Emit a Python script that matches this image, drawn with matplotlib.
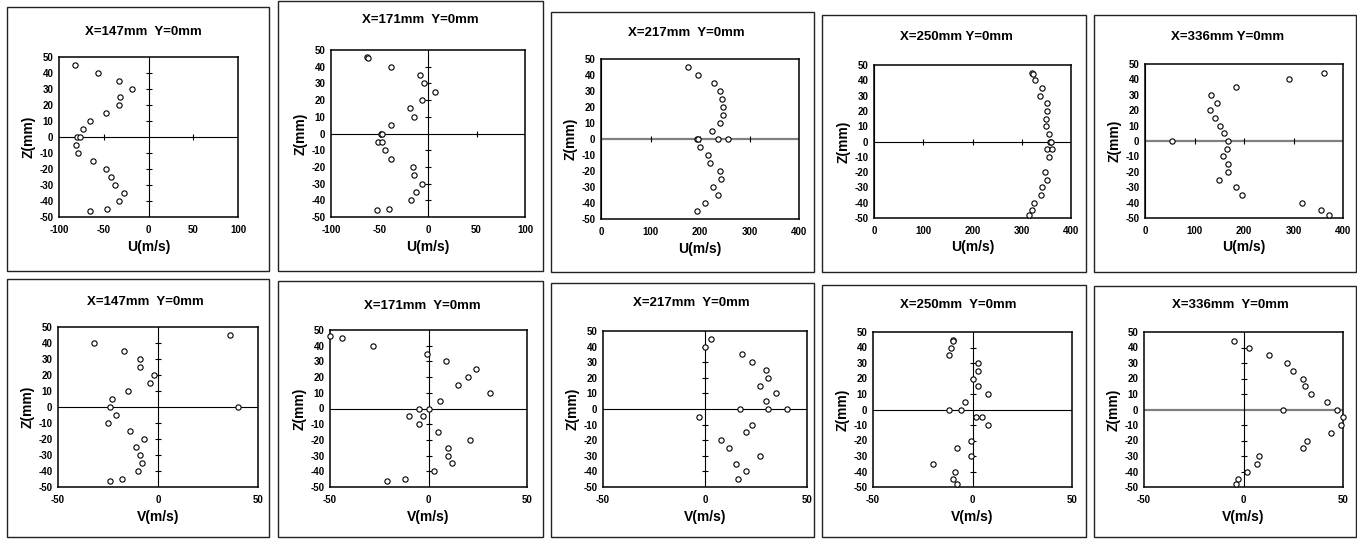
import matplotlib
matplotlib.use("Agg")
import matplotlib.pyplot as plt
from matplotlib.patches import Rectangle

plt.rcParams['font.family'] = ['Liberation Sans', 'DejaVu Sans']
plt.rcParams['font.weight'] = 'bold'
plt.rcParams['axes.unicode_minus'] = False

# measured profiles, Z in mm
z_u147 = [45, 40, 35, 30, 25, 20, 15, 10, 5, 0, 0, -5, -10, -15, -20, -25, -30, -35, -40, -45, -46]
u147 = [-82, -56, -33, -18, -32, -33, -47, -65, -73, -80, -77, -81, -79, -62, -48, -42, -37, -27, -33, -46, -65]

z_u171 = [46, 45, 40, 35, 30, 25, 20, 15, 10, 5, 0, 0, -5, -5, -10, -15, -20, -25, -30, -35, -40, -45, -46]
u171 = [-63, -62, -38, -8, -4, 7, -6, -19, -14, -38, -48, -47, -52, -47, -44, -38, -15, -14, -6, -12, -18, -40, -53]

z_u217 = [45, 40, 35, 30, 25, 20, 15, 10, 5, 0, 0, 0, 0, -5, -10, -15, -20, -25, -30, -35, -40, -45]
u217 = [176, 196, 229, 240, 245, 246, 247, 240, 224, 194, 196, 237, 256, 200, 216, 220, 241, 243, 227, 236, 211, 194]

z_u250 = [45, 44, 40, 35, 30, 25, 20, 15, 10, 5, 0, 0, -5, -5, -10, -20, -25, -30, -35, -40, -45, -48]
u250 = [321, 322, 326, 342, 338, 352, 352, 350, 350, 356, 357, 360, 352, 362, 356, 348, 351, 342, 340, 324, 320, 315]

z_u336 = [44, 40, 35, 30, 25, 20, 15, 10, 5, 0, 0, -5, -10, -15, -20, -25, -30, -35, -40, -45, -48]
u336 = [361, 290, 183, 134, 145, 132, 142, 151, 159, 55, 167, 165, 157, 168, 168, 150, 183, 196, 318, 355, 371]

z_v147 = [45, 40, 35, 30, 25, 20, 15, 10, 5, 0, 0, -5, -10, -15, -20, -25, -30, -35, -40, -45, -46]
v147 = [36, -32, -17, -9, -9, -2, -4, -15, -23, -24, 40, -21, -25, -14, -7, -11, -9, -8, -10, -18, -24]

z_v171 = [46, 45, 40, 35, 30, 25, 20, 15, 10, 5, 0, 0, -5, -5, -10, -15, -20, -25, -30, -35, -40, -45, -46]
v171 = [-50, -44, -28, -1, 9, 24, 20, 15, 31, 6, -5, 0, -10, -3, -5, 5, 21, 10, 10, 12, 3, -12, -21]

z_v217 = [45, 40, 35, 30, 25, 20, 15, 10, 5, 0, 0, 0, -5, -10, -15, -20, -25, -30, -35, -40, -45]
v217 = [3, 0, 18, 23, 30, 31, 27, 35, 30, 17, 31, 40, -3, 23, 20, 8, 12, 27, 15, 20, 16]

z_v250 = [45, 44, 40, 35, 30, 25, 20, 15, 10, 5, 0, 0, -5, -5, -10, -20, -25, -30, -35, -40, -45, -48]
v250 = [-10, -10, -11, -12, 3, 3, 0, 3, 8, -4, -12, -6, 2, 5, 8, -1, -8, -1, -20, -9, -10, -8]

z_v336 = [44, 40, 35, 30, 25, 20, 15, 10, 5, 0, 0, -5, -10, -15, -20, -25, -30, -35, -40, -45, -48]
v336 = [-5, 3, 13, 22, 25, 30, 31, 34, 42, 20, 47, 50, 49, 44, 32, 30, 8, 7, 2, -3, -4]

titles = ["X=147mm  Y=0mm", "X=171mm  Y=0mm", "X=217mm  Y=0mm", "X=250mm Y=0mm", "X=336mm Y=0mm",
          "X=147mm  Y=0mm", "X=171mm  Y=0mm", "X=217mm  Y=0mm", "X=250mm  Y=0mm", "X=336mm  Y=0mm"]
xs = [u147, u171, u217, u250, u336, v147, v171, v217, v250, v336]
zs = [z_u147, z_u171, z_u217, z_u250, z_u336, z_v147, z_v171, z_v217, z_v250, z_v336]
xticks_u_small = [-100, -50, 0, 50, 100]
xticks_u_big = [0, 100, 200, 300, 400]
xticks_v = [-50, 0, 50]
zticks = list(range(-50, 51, 10))

W, H = 1357, 539
# pixel boxes: outer frame and plot area (x0, x1, ytop, ybottom)
frames = [(7, 269, 7, 271), (278, 543, 1, 271), (551, 814, 12, 272), (822, 1086, 15, 272), (1094, 1356, 15, 272),
          (7, 269, 279, 537), (278, 543, 281, 537), (551, 814, 283, 537), (822, 1086, 285, 537), (1094, 1356, 286, 537)]
plots = [(59, 238, 57, 217), (331, 525, 50, 217), (601, 799, 59, 219), (874, 1071, 65, 218), (1145, 1343, 64, 218),
         (58, 258, 327, 487), (330, 527, 330, 487), (603, 807, 331, 487), (873, 1072, 332, 487), (1144, 1343, 332, 487)]
title_pos = [(143, 32), (420, 20), (686, 33), (956, 37), (1228, 37),
             (145, 302), (422, 306), (691, 303), (958, 305), (1230, 305)]
hline_gray = [False, False, True, False, True, False, False, False, False, True]

fig = plt.figure(figsize=(W / 100, H / 100), dpi=100)

for i in range(10):
    fx0, fx1, fy0, fy1 = frames[i]
    fig.patches.append(Rectangle((fx0 / W, 1 - fy1 / H), (fx1 - fx0) / W, (fy1 - fy0) / H,
                                 transform=fig.transFigure, fill=False, ec='#222222', lw=1.0))
    x0, x1, y0, y1 = plots[i]
    ax = fig.add_axes([x0 / W, 1 - y1 / H, (x1 - x0) / W, (y1 - y0) / H])

    if i < 2:
        xt = xticks_u_small
    elif i < 5:
        xt = xticks_u_big
    else:
        xt = xticks_v
    ax.set_xlim(xt[0], xt[-1])
    ax.set_ylim(-50, 50)
    ax.set_xticks(xt)
    ax.set_yticks(zticks)
    ax.tick_params(length=0, labelsize=7, pad=4)
    ax.tick_params(axis='x', pad=6)
    for s in ax.spines.values():
        s.set_linewidth(1.1)

    if hline_gray[i]:
        ax.axhline(0, color='#808080', lw=1.6, zorder=1)
    else:
        ax.axhline(0, color='black', lw=0.8, zorder=1)
    ax.axvline(0, color='black', lw=0.8, zorder=1)
    inner_x = [t for t in xt[1:-1] if t != 0]
    ax.plot(inner_x, [0] * len(inner_x), ls='none', marker='|', ms=5, mew=0.8, color='black', zorder=2)
    if xt[0] < 0:
        inner_z = [t for t in zticks[1:-1] if t != 0]
        ax.plot([0] * len(inner_z), inner_z, ls='none', marker='_', ms=5, mew=0.8, color='black', zorder=2)

    ax.plot(xs[i], zs[i], ls='none', marker='o', ms=3.8, mfc='white', mec='black', mew=0.8,
            clip_on=False, zorder=3)

    ax.set_xlabel("U(m/s)" if i < 5 else "V(m/s)", fontsize=10, fontweight='bold', labelpad=3)
    ax.set_ylabel("Z(mm)", fontsize=10, fontweight='bold', labelpad=3)

    tx, ty = title_pos[i]
    fig.text(tx / W, 1 - ty / H, titles[i], ha='center', va='center', fontsize=9.5, fontweight='bold')

fig.savefig("out.png", dpi=100)
